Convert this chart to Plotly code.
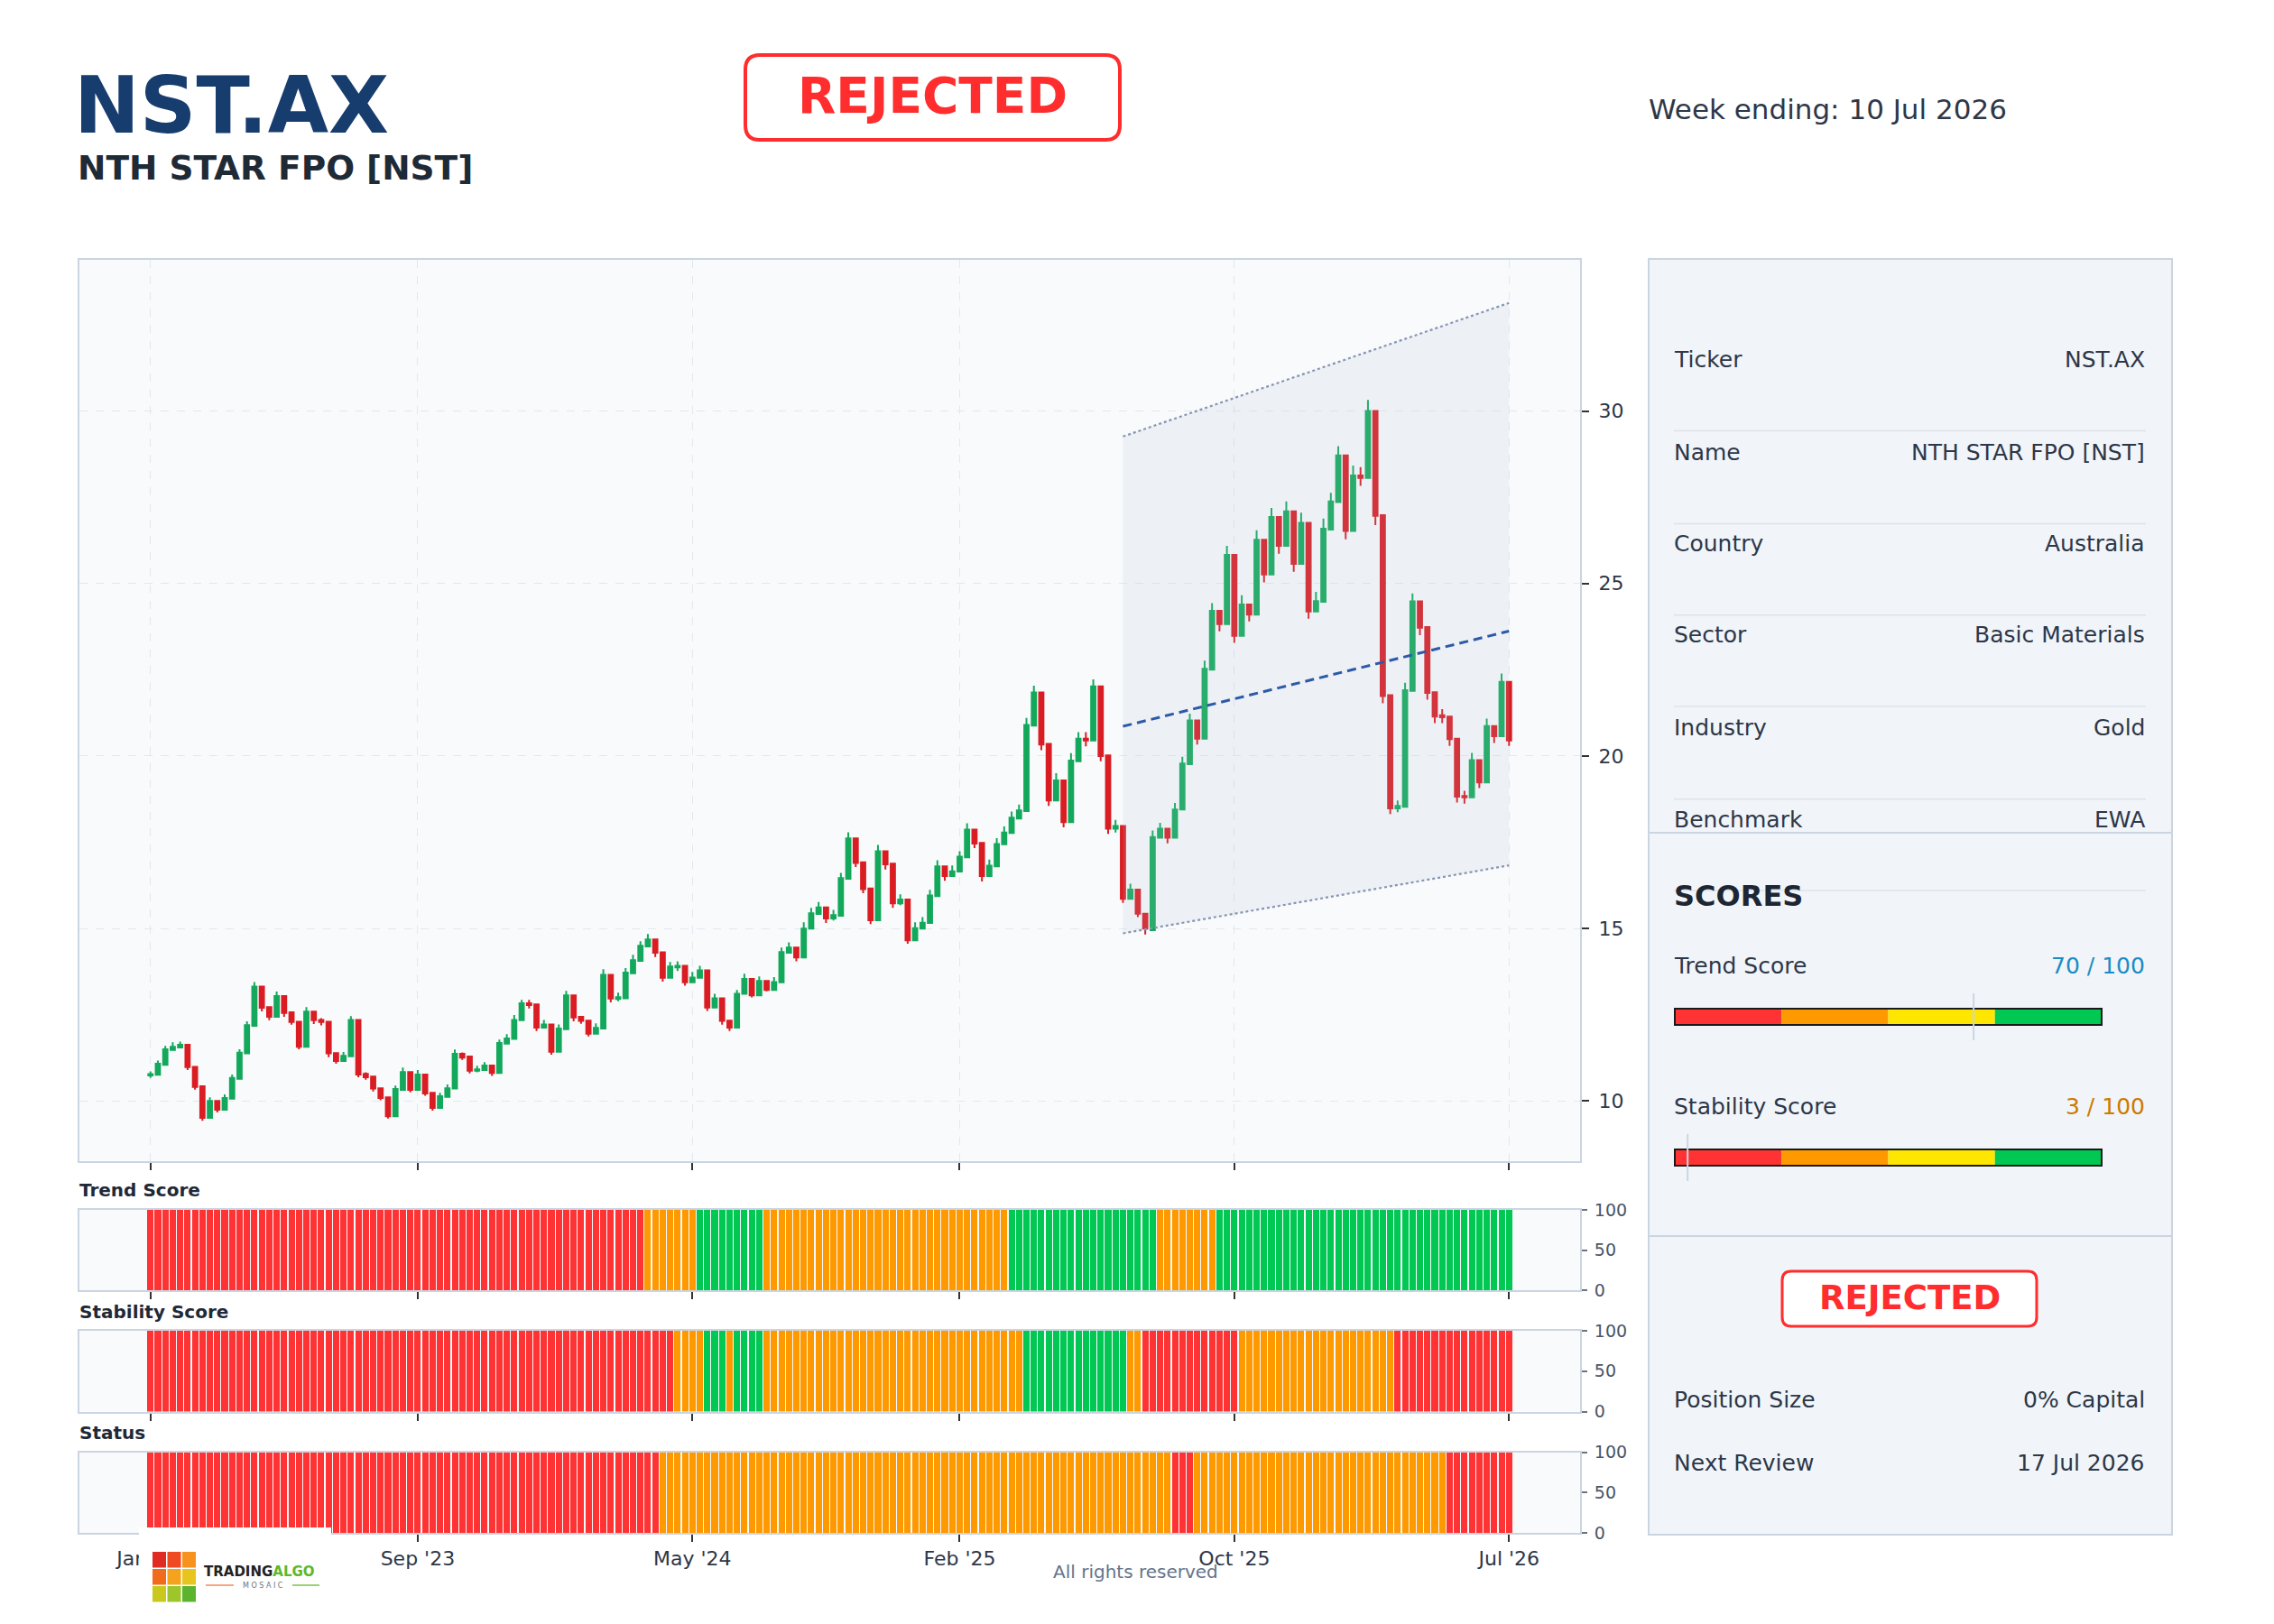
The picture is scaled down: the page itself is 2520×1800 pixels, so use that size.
import plotly.graph_objects as go
import pandas as pd
import numpy as np

W, H = 2520, 1800
FONT = "DejaVu Sans"


def px(x):
    return x / W


def py(y):
    return 1 - y / H


# ---------------- data ----------------
last_week = pd.Timestamp("2026-07-10")
n_weeks = 184
dates = pd.date_range(end=last_week, periods=n_weeks, freq="7D")

opens = [10.74, 10.76, 11.05, 11.48, 11.55, 11.63, 10.99, 10.43, 9.51, 10.00,
         9.75, 10.07, 10.64, 11.38, 12.18, 13.32, 12.72, 12.44, 13.04, 12.57,
         12.30, 11.57, 12.59, 12.35, 12.30, 11.39, 11.16, 11.30, 12.35, 10.79,
         10.71, 10.37, 10.11, 9.56, 10.32, 10.84, 10.32, 10.77, 10.24, 9.80,
         10.12, 10.36, 11.37, 11.29, 10.88, 10.90, 11.03, 10.81, 11.66, 11.80,
         12.34, 12.83, 12.80, 12.13, 12.22, 11.43, 12.08, 13.06, 12.44, 12.33,
         11.95, 12.10, 13.66, 12.96, 12.98, 13.70, 14.06, 14.48, 14.68, 14.31,
         13.57, 13.87, 13.92, 13.44, 13.57, 13.79, 12.71, 12.98, 12.33, 12.13,
         13.11, 13.54, 13.06, 13.48, 13.22, 13.44, 14.30, 14.45, 14.16, 15.00,
         15.42, 15.61, 15.29, 15.37, 16.44, 17.61, 16.92, 16.16, 15.24, 17.24,
         16.88, 15.73, 15.84, 14.66, 15.00, 15.16, 15.94, 16.80, 16.52, 16.65,
         17.06, 17.87, 17.48, 16.52, 16.80, 17.44, 17.77, 18.19, 18.40, 20.88,
         21.84, 20.35, 18.71, 19.29, 18.08, 19.85, 20.50, 20.45, 22.02, 20.02,
         17.89, 17.97, 15.86, 16.13, 15.43, 14.95, 17.63, 17.89, 17.63, 18.45,
         19.76, 21.03, 20.50, 22.50, 24.21, 23.82, 25.83, 23.48, 24.39, 24.10,
         26.27, 25.26, 26.93, 26.09, 27.09, 25.57, 26.76, 24.19, 24.47, 26.56,
         27.36, 28.71, 26.52, 28.13, 28.06, 30.00, 26.98, 21.76, 18.48, 18.53,
         21.89, 24.48, 23.74, 21.85, 21.18, 21.14, 20.50, 18.84, 18.80, 19.88,
         19.23, 20.87, 20.57, 22.15]
highs = [10.86, 11.17, 11.60, 11.70, 11.72, 11.63, 10.99, 10.43, 10.11, 10.03,
         10.19, 10.77, 11.50, 12.31, 13.45, 13.32, 12.72, 13.17, 13.04, 12.57,
         12.30, 12.72, 12.59, 12.40, 12.30, 11.39, 11.42, 12.46, 12.35, 10.83,
         10.71, 10.37, 10.11, 10.45, 10.97, 10.84, 10.90, 10.77, 10.24, 10.24,
         10.48, 11.49, 11.41, 11.29, 11.02, 11.13, 11.03, 11.78, 11.94, 12.49,
         12.93, 12.93, 12.80, 12.35, 12.22, 12.22, 13.19, 13.06, 12.47, 12.33,
         12.25, 13.82, 13.66, 13.14, 13.85, 14.24, 14.63, 14.84, 14.68, 14.31,
         14.03, 14.05, 13.92, 13.74, 13.92, 13.79, 13.11, 12.98, 12.33, 13.22,
         13.69, 13.54, 13.61, 13.48, 13.59, 14.45, 14.60, 14.45, 15.18, 15.60,
         15.77, 15.61, 15.54, 16.61, 17.79, 17.61, 16.92, 16.16, 17.42, 17.24,
         16.88, 15.99, 15.84, 15.18, 15.33, 16.12, 16.98, 16.80, 16.83, 17.24,
         18.05, 17.87, 17.48, 17.00, 17.62, 17.96, 18.39, 18.59, 21.10, 22.04,
         21.84, 20.35, 19.50, 19.29, 20.08, 20.69, 20.69, 22.22, 22.02, 20.02,
         18.15, 17.97, 16.30, 16.13, 15.43, 17.84, 18.06, 17.89, 18.64, 19.98,
         21.23, 21.03, 22.76, 24.43, 24.21, 26.09, 25.83, 24.66, 24.39, 26.54,
         26.27, 27.19, 26.93, 27.38, 27.09, 27.05, 26.76, 24.76, 26.88, 27.63,
         28.98, 28.71, 28.42, 28.37, 30.32, 30.00, 26.98, 21.76, 18.71, 22.12,
         24.71, 24.48, 23.74, 21.85, 21.36, 21.14, 20.50, 18.99, 20.09, 19.88,
         21.08, 20.87, 22.39, 22.15]
lows = [10.67, 10.76, 11.05, 11.48, 11.53, 10.90, 10.33, 9.43, 9.51, 9.67,
        9.75, 10.07, 10.64, 11.38, 12.18, 12.60, 12.34, 12.44, 12.44, 12.21,
        11.50, 11.57, 12.23, 12.19, 11.27, 11.08, 11.16, 11.30, 10.69, 10.62,
        10.28, 10.02, 9.49, 9.56, 10.32, 10.25, 10.32, 10.15, 9.72, 9.80,
        10.12, 10.36, 11.19, 10.80, 10.83, 10.90, 10.73, 10.81, 11.66, 11.80,
        12.34, 12.68, 12.03, 12.13, 11.34, 11.43, 12.08, 12.31, 12.24, 11.87,
        11.95, 12.10, 12.86, 12.89, 12.98, 13.70, 14.06, 14.48, 14.17, 13.46,
        13.57, 13.77, 13.34, 13.44, 13.57, 12.61, 12.71, 12.21, 12.03, 12.13,
        13.11, 13.00, 13.06, 13.18, 13.22, 13.44, 14.30, 14.05, 14.16, 15.00,
        15.42, 15.16, 15.23, 15.37, 16.44, 16.78, 16.02, 15.13, 15.24, 16.71,
        15.60, 15.68, 14.56, 14.66, 15.00, 15.16, 15.94, 16.38, 16.52, 16.65,
        17.06, 17.33, 16.36, 16.52, 16.80, 17.44, 17.77, 18.19, 18.40, 20.88,
        20.17, 18.55, 18.71, 17.93, 18.08, 19.85, 20.28, 20.45, 19.85, 17.74,
        17.78, 15.74, 15.86, 15.33, 14.83, 14.95, 17.63, 17.47, 17.63, 18.45,
        19.76, 20.33, 20.50, 22.50, 23.61, 23.82, 23.28, 23.48, 23.90, 24.10,
        25.03, 25.26, 25.86, 26.09, 25.34, 25.57, 23.98, 24.19, 24.47, 26.56,
        27.36, 26.28, 26.52, 27.83, 28.06, 26.69, 21.53, 18.32, 18.37, 18.53,
        21.89, 23.50, 21.63, 20.95, 20.95, 20.29, 18.65, 18.62, 18.80, 19.07,
        19.23, 20.38, 20.57, 20.29]
closes = [10.78, 11.08, 11.50, 11.57, 11.63, 10.98, 10.41, 9.51, 10.00, 9.75,
          10.09, 10.67, 11.40, 12.20, 13.32, 12.70, 12.44, 13.04, 12.55, 12.29,
          11.57, 12.59, 12.34, 12.29, 11.38, 11.16, 11.31, 12.35, 10.77, 10.69,
          10.36, 10.09, 9.56, 10.35, 10.84, 10.32, 10.77, 10.22, 9.80, 10.14,
          10.37, 11.37, 11.26, 10.88, 10.92, 11.03, 10.81, 11.68, 11.81, 12.35,
          12.83, 12.78, 12.13, 12.22, 11.43, 12.10, 13.06, 12.42, 12.32, 11.95,
          12.12, 13.66, 12.97, 13.01, 13.72, 14.08, 14.50, 14.68, 14.30, 13.57,
          13.90, 13.92, 13.44, 13.58, 13.79, 12.71, 12.98, 12.32, 12.13, 13.11,
          13.54, 13.06, 13.48, 13.22, 13.45, 14.32, 14.45, 14.16, 15.00, 15.44,
          15.61, 15.29, 15.39, 16.46, 17.61, 16.90, 16.14, 15.24, 17.24, 16.86,
          15.73, 15.84, 14.66, 15.01, 15.17, 15.96, 16.80, 16.52, 16.66, 17.08,
          17.87, 17.46, 16.52, 16.82, 17.45, 17.78, 18.21, 18.42, 20.90, 21.84,
          20.33, 18.71, 19.29, 18.08, 19.87, 20.50, 20.45, 22.02, 20.00, 17.89,
          17.97, 15.86, 16.13, 15.43, 15.00, 17.65, 17.89, 17.63, 18.45, 19.78,
          21.03, 20.50, 22.53, 24.21, 23.82, 25.83, 23.48, 24.39, 24.10, 26.27,
          25.26, 26.93, 26.09, 27.09, 25.57, 26.76, 24.19, 24.49, 26.59, 27.38,
          28.71, 26.52, 28.13, 28.06, 30.00, 26.96, 21.74, 18.48, 18.55, 21.91,
          24.48, 23.72, 21.83, 21.14, 21.12, 20.49, 18.82, 18.80, 19.88, 19.23,
          20.87, 20.57, 22.15, 20.45]

# regression channel: start / end week index and levels
channel_weeks = [131, 183]
channel_mid = [20.86, 23.62]
channel_upper = [29.26, 33.13]
channel_lower = [14.86, 16.83]

# score strips as run lengths of colour bands (R=red, O=orange, G=green)
trend_bands = ["R", "O", "G", "O", "G", "O", "G"]
trend_weeks = [67, 7, 9, 33, 20, 8, 40]
stability_bands = ["R", "O", "G", "O", "G", "O", "G", "O", "R", "O", "R"]
stability_weeks = [71, 4, 3, 1, 4, 35, 14, 2, 13, 21, 16]
status_bands = ["R", "O", "R", "O", "R"]
status_weeks = [69, 69, 3, 34, 9]

info_labels = ["Ticker", "Name", "Country", "Sector", "Industry", "Benchmark"]
info_values = ["NST.AX", "NTH STAR FPO [NST]", "Australia", "Basic Materials", "Gold", "EWA"]
trend_score = 70
stability_score = 3
position_size = "0% Capital"
next_review = "17 Jul 2026"
status_text = "REJECTED"
ticker = "NST.AX"
company = "NTH STAR FPO [NST]"
week_ending = "10 Jul 2026"

BAND_COLORS = {"R": "#ff3333", "O": "#ff9900", "G": "#00c853", "Y": "#ffe600"}


def expand(bands, counts):
    out = []
    for b, c in zip(bands, counts):
        out += [BAND_COLORS[b]] * c
    return out


trend_colors = expand(trend_bands, trend_weeks)
stability_colors = expand(stability_bands, stability_weeks)
status_colors = expand(status_bands, status_weeks)

# ---------------- figure ----------------
fig = go.Figure()

fig.add_trace(go.Candlestick(
    x=dates, open=opens, high=highs, low=lows, close=closes,
    increasing=dict(line=dict(color="#13a85b", width=2), fillcolor="#13a85b"),
    decreasing=dict(line=dict(color="#d91d23", width=2), fillcolor="#d91d23"),
    xaxis="x", yaxis="y", showlegend=False, hoverinfo="skip"))

cd = [dates[i] for i in channel_weeks]
fig.add_trace(go.Scatter(
    x=[cd[0], cd[1], cd[1], cd[0], cd[0]],
    y=[channel_lower[0], channel_lower[1], channel_upper[1], channel_upper[0], channel_lower[0]],
    fill="toself", fillcolor="rgba(176,192,214,0.15)", mode="lines",
    line=dict(width=0, color="rgba(0,0,0,0)"), xaxis="x", yaxis="y", showlegend=False, hoverinfo="skip"))
for ys in (channel_upper, channel_lower):
    fig.add_trace(go.Scatter(x=cd, y=ys, mode="lines",
                             line=dict(color="#8795b2", width=2.2, dash="dot"),
                             xaxis="x", yaxis="y", showlegend=False, hoverinfo="skip"))
fig.add_trace(go.Scatter(x=cd, y=channel_mid, mode="lines",
                         line=dict(color="#2c5aa8", width=3, dash="10px,6px"),
                         xaxis="x", yaxis="y", showlegend=False, hoverinfo="skip"))

bar_w = 6.0 * 86400000
for k, cols in zip((2, 3, 4), (trend_colors, stability_colors, status_colors)):
    fig.add_trace(go.Bar(x=dates, y=[100] * n_weeks, marker=dict(color=cols, line=dict(width=0)),
                         width=bar_w, xaxis=f"x{k}", yaxis=f"y{k}", showlegend=False, hoverinfo="skip"))

tick_idx = [int(v) for v in np.linspace(0, n_weeks - 1, 6)]
tickvals = [dates[i] for i in tick_idx]
ticktext = [d.strftime("%b '%y") for d in tickvals]
xrange = [dates[0] - pd.Timedelta(days=67), dates[-1] + pd.Timedelta(days=67)]

x_dom = [px(88), px(1751)]
common_x = dict(type="date", range=xrange, tickvals=tickvals, ticktext=ticktext,
                ticks="outside", ticklen=8, tickwidth=2, tickcolor="#333333",
                showline=True, mirror=True, linecolor="#cbd5e1", linewidth=2,
                automargin=False, domain=x_dom, zeroline=False,
                tickfont=dict(size=22, color="#2d3748", family=FONT))

layout_axes = {}
layout_axes["xaxis"] = dict(common_x, anchor="y", showticklabels=False, showgrid=True,
                            gridcolor="#e2e8f0", griddash="dash", gridwidth=1,
                            layer="above traces", rangeslider=dict(visible=False))
layout_axes["yaxis"] = dict(domain=[py(1286.5), py(288)], anchor="x", side="right",
                            range=[8.27, 34.38], tickvals=[10, 15, 20, 25, 30],
                            ticks="outside", ticklen=8, tickwidth=2, tickcolor="#333333",
                            showgrid=True, gridcolor="#e2e8f0", griddash="dash", gridwidth=1,
                            showline=True, mirror=True, linecolor="#cbd5e1", linewidth=2,
                            zeroline=False, automargin=False, layer="above traces",
                            ticklabelstandoff=6,
                            tickfont=dict(size=22, color="#2d3748", family=FONT))
strip_dom = {2: (1430, 1341), 3: (1564.5, 1475), 4: (1699, 1609.5)}
for k, (yb, yt) in strip_dom.items():
    layout_axes[f"xaxis{k}"] = dict(common_x, anchor=f"y{k}", showticklabels=(k == 4), showgrid=False)
    layout_axes[f"yaxis{k}"] = dict(domain=[py(yb), py(yt)], anchor=f"x{k}", side="right",
                                    range=[0, 100], tickvals=[0, 50, 100], ticks="outside",
                                    ticklen=6, tickwidth=1.5, tickcolor="#6b7280",
                                    showgrid=False, zeroline=False,
                                    showline=True, mirror=True, linecolor="#cbd5e1", linewidth=2,
                                    automargin=False, ticklabelstandoff=4,
                                    tickfont=dict(size=19, color="#4a5568", family=FONT))

shapes = []
annotations = []


def rect(x0, y0, x1, y1, layer="below", **kw):
    shapes.append(dict(type="rect", xref="paper", yref="paper", x0=px(x0), x1=px(x1),
                       y0=py(y1), y1=py(y0), layer=layer, **kw))


def hline(x0, x1, y, color, width, layer="below"):
    shapes.append(dict(type="line", xref="paper", yref="paper", x0=px(x0), x1=px(x1),
                       y0=py(y), y1=py(y), line=dict(color=color, width=width), layer=layer))


def vline(x, y0, y1, color, width, layer="above"):
    shapes.append(dict(type="line", xref="paper", yref="paper", x0=px(x), x1=px(x),
                       y0=py(y0), y1=py(y1), line=dict(color=color, width=width), layer=layer))


def rrect(x0, y0, x1, y1, r, line_color, lw, fill="white", layer="below"):
    p = (f"M {px(x0 + r)},{py(y0)} L {px(x1 - r)},{py(y0)} Q {px(x1)},{py(y0)} {px(x1)},{py(y0 + r)} "
         f"L {px(x1)},{py(y1 - r)} Q {px(x1)},{py(y1)} {px(x1 - r)},{py(y1)} "
         f"L {px(x0 + r)},{py(y1)} Q {px(x0)},{py(y1)} {px(x0)},{py(y1 - r)} "
         f"L {px(x0)},{py(y0 + r)} Q {px(x0)},{py(y0)} {px(x0 + r)},{py(y0)} Z")
    shapes.append(dict(type="path", xref="paper", yref="paper", path=p, fillcolor=fill,
                       line=dict(color=line_color, width=lw), layer=layer))


def text(x, y, s, size, color, anchor="left", bold=False):
    annotations.append(dict(xref="paper", yref="paper", x=px(x), y=py(y),
                            text=f"<b>{s}</b>" if bold else s, showarrow=False,
                            xanchor=anchor, yanchor="middle",
                            font=dict(size=size, color=color, family=FONT)))


# header
text(80, 117, ticker, 87, "#173d6f", bold=True)
text(84, 186, company, 37.5, "#1f2a37", bold=True)
rrect(826, 61, 1241, 155, 16, "#ff2d2d", 4)
text(1033, 106, status_text, 55, "#ff2d2d", anchor="center", bold=True)
text(1825, 121, f"Week ending: {week_ending}", 31, "#2d3748")

# strip titles
text(86, 1319, "Trend Score", 20, "#1f2937", bold=True)
text(86, 1454, "Stability Score", 20, "#1f2937", bold=True)
text(86, 1588, "Status", 20, "#1f2937", bold=True)

# side panel
rect(1827, 287, 2407, 1701, fillcolor="#f1f5f9", line=dict(color="#cbd5e1", width=2))
hline(1827, 2407, 923, "#cbd5e1", 2)
hline(1827, 2407, 1370, "#cbd5e1", 2)
row_y = [398.6, 501.4, 602.7, 703.9, 806.8, 908.0]
for lab, val, yy in zip(info_labels, info_values, row_y):
    text(1853, yy, lab, 25, "#2d3748")
    text(2379, yy, val, 25, "#2d3748", anchor="right")
    hline(1855, 2378, yy + 79, "#dde3ea", 1.5)

text(1853, 993, "SCORES", 32, "#1e2633", bold=True)
gauge_x0, gauge_x1 = 1856, 2329
seg_colors = [BAND_COLORS["R"], BAND_COLORS["O"], BAND_COLORS["Y"], BAND_COLORS["G"]]
for label, score, val_color, ly, gy in (("Trend Score", trend_score, "#1a8cc4", 1070, 1118),
                                          ("Stability Score", stability_score, "#cc7a00", 1226, 1274)):
    text(1853, ly, label, 25, "#2d3748")
    text(2379, ly, f"{score} / 100", 25, val_color, anchor="right")
    seg_w = (gauge_x1 - gauge_x0) / 4
    for j, c in enumerate(seg_colors):
        rect(gauge_x0 + j * seg_w, gy, gauge_x0 + (j + 1) * seg_w, gy + 18,
             fillcolor=c, line=dict(width=0))
    rect(gauge_x0, gy, gauge_x1, gy + 18, fillcolor="rgba(0,0,0,0)",
         line=dict(color="#1a1a1a", width=2))
    mx = gauge_x0 + (gauge_x1 - gauge_x0) * score / 100
    vline(mx, gy - 17, gy + 35, "#cbd5e1", 2)

rrect(1975, 1409, 2257, 1470, 10, "#ff2d2d", 3)
text(2116, 1438, status_text, 37, "#ff2d2d", anchor="center", bold=True)
text(1853, 1551, "Position Size", 25, "#2d3748")
text(2379, 1551, position_size, 25, "#2d3748", anchor="right")
text(1853, 1621, "Next Review", 25, "#2d3748")
text(2379, 1621, next_review, 25, "#2d3748", anchor="right")

# footer
text(1258, 1742, "All rights reserved", 20, "#64748b", anchor="center")

# logo (white tile with coloured cube grid)
rect(154, 1693, 367, 1800, layer="above", fillcolor="white", line=dict(width=0))
cube_colors = [["#e02b24", "#f04a22", "#f7921e"],
               ["#f26a1b", "#f5a31c", "#e8c51e"],
               ["#c9c81c", "#9cc62a", "#5cb32e"]]
for r_i, row in enumerate(cube_colors):
    for c_i, col in enumerate(row):
        x0 = 169 + c_i * 16.5
        y0 = 1720 + r_i * 19
        rect(x0, y0, x0 + 15, y0 + 17.5, layer="above", fillcolor=col, line=dict(width=0))
text(224, 1742, "<b>TRADING</b><b><span style='color:#5cb82e'>ALGO</span></b>", 15, "#222222")
hline(228, 259, 1757, "#f08a5d", 1.5, layer="above")
hline(324, 354, 1757, "#7cc24a", 1.5, layer="above")
text(291, 1757, "M O S A I C", 8, "#6b7280", anchor="center")

fig.update_layout(
    width=W, height=H, margin=dict(l=0, r=0, t=0, b=0), autosize=False,
    template="none", paper_bgcolor="white", plot_bgcolor="#f8fafc",
    font=dict(family=FONT, color="#2d3748"), showlegend=False,
    bargap=0, barmode="overlay", boxgap=0.2, boxgroupgap=0.27, hovermode=False,
    shapes=shapes, annotations=annotations, **layout_axes)

fig.write_html("out.html")
